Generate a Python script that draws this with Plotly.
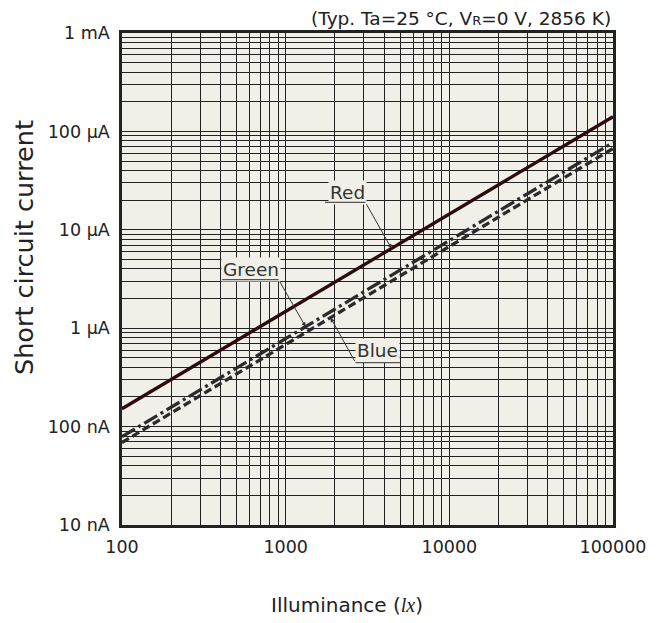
import numpy as np
import plotly.graph_objects as go

# ---- data ----
illuminance = [100, 100000]                 # lx
red_current = [1.52e-7, 1.41e-4]            # A
green_current = [7.9e-8, 7.7e-5]            # A
blue_current = [6.9e-8, 6.7e-5]             # A

x_tickvals = [100, 1000, 10000, 100000]
x_ticktext = ["100", "1000", "10000", "100000"]
y_tickvals = [1e-8, 1e-7, 1e-6, 1e-5, 1e-4, 1e-3]
y_ticktext = ["10 nA", "100 nA", "1 µA", "10 µA", "100 µA", "1 mA"]

x_minor = [k * 10 ** d for d in range(2, 5) for k in range(2, 10)]
y_minor = [k * 10.0 ** d for d in range(-8, -3) for k in range(2, 10)]

# label positions: name and lx where the leader touches the line
label_names = ["Red", "Green", "Blue"]
label_lx = [4430, 1324, 1880]

FONT = "DejaVu Sans"
BG = "#f1f0e8"
INK = "#222222"
GRID = "#222222"

fig = go.Figure()
fig.add_trace(go.Scatter(x=illuminance, y=red_current, mode="lines",
                         line=dict(color="#2c0b0d", width=3.3), name="Red"))
fig.add_trace(go.Scatter(x=illuminance, y=green_current, mode="lines",
                         line=dict(color="#2b2b2b", width=3.3, dash="15px,4px,3px,4px"),
                         name="Green"))
fig.add_trace(go.Scatter(x=illuminance, y=blue_current, mode="lines",
                         line=dict(color="#2b2b2b", width=3.3, dash="8px,4px"),
                         name="Blue"))


def y_on(series, lx):
    lx_log = np.log10(illuminance)
    return float(np.interp(np.log10(lx), lx_log, np.log10(series)))


series_map = {"Red": red_current, "Green": green_current, "Blue": blue_current}
# pixel layout of each callout relative to its tip: (corner dx, dy, text dx, dy, underline len)
callout = {
    "Red": (-26, -46, -44, -56, -42),
    "Green": (-27, -47, -55, -57, -58),
    "Blue": (25, 45, 47, 33, 46),
}

annotations = []
for name, lx in zip(label_names, label_lx):
    xl = np.log10(lx)
    yl = y_on(series_map[name], lx)
    cdx, cdy, tdx, tdy, ulen = callout[name]
    annotations.append(dict(x=xl, y=yl, xref="x", yref="y", text="", showarrow=True,
                            ax=cdx, ay=cdy, arrowhead=2, arrowsize=0.9, arrowwidth=1,
                            arrowcolor="#333333", standoff=0, startstandoff=0))
    annotations.append(dict(x=xl, y=yl, xref="x", yref="y", text=name, showarrow=False,
                            xshift=tdx, yshift=-tdy, bgcolor=BG, borderpad=1,
                            font=dict(family=FONT, size=18.5, color="#333333")))
    annotations.append(dict(x=xl, y=yl, xref="x", yref="y", text="", showarrow=True,
                            xshift=cdx, yshift=-cdy, ax=ulen, ay=0, arrowhead=0,
                            arrowwidth=1.2, arrowcolor="#555555", standoff=0))

# condition note
annotations.append(dict(
    xref="paper", yref="paper", x=1, y=1, xanchor="right", yanchor="bottom", yshift=2,
    showarrow=False,
    text="(Typ. Ta=25 °C, V<span style='font-size:13px'>R</span>=0 V, 2856 K)",
    font=dict(family=FONT, size=18.5, color=INK)))
# axis titles
annotations.append(dict(
    xref="paper", yref="paper", x=0.459, y=0, yanchor="middle", yshift=-80,
    showarrow=False,
    text="Illuminance (<span style='font-family:Liberation Serif'><i>lx</i></span>)",
    font=dict(family=FONT, size=20, color=INK)))
annotations.append(dict(
    xref="paper", yref="paper", x=0, y=0.563, xanchor="center", yanchor="middle",
    xshift=-98, textangle=-90, showarrow=False,
    text="Short circuit current",
    font=dict(family=FONT, size=25.5, color=INK)))

axis_common = dict(
    type="log", showline=True, mirror=True, linecolor=INK, linewidth=2.5,
    showgrid=True, gridcolor=GRID, gridwidth=1.3, zeroline=False, ticks="",
    tickfont=dict(family=FONT, size=17.5, color=INK),
)

fig.update_layout(
    width=664, height=623,
    margin=dict(l=114, r=59, t=25, b=106),
    paper_bgcolor="white", plot_bgcolor=BG,
    showlegend=False,
    annotations=annotations,
    xaxis=dict(axis_common, range=[2, 5], tickvals=x_tickvals, ticktext=x_ticktext,
               ticklabelstandoff=4,
               minor=dict(tickvals=x_minor, showgrid=True, gridcolor=GRID,
                          gridwidth=1.3, ticks="")),
    yaxis=dict(axis_common, range=[-8, -3], tickvals=y_tickvals, ticktext=y_ticktext,
               ticklabelstandoff=6,
               minor=dict(tickvals=y_minor, showgrid=True, gridcolor=GRID,
                          gridwidth=1.3, ticks="")),
)

fig.write_html("out.html")
